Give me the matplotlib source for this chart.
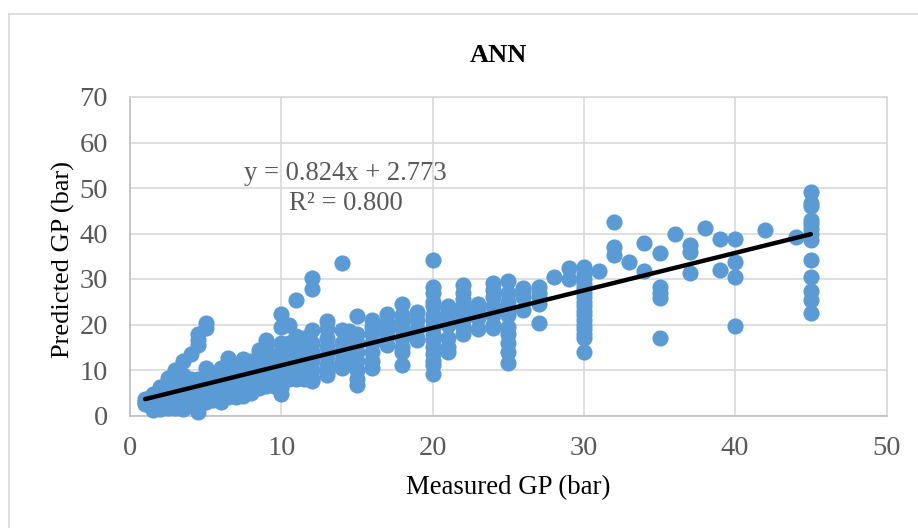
import matplotlib
matplotlib.use('Agg')
import matplotlib.pyplot as plt
from matplotlib.lines import Line2D

plt.rcParams['font.family'] = ['Liberation Serif', 'DejaVu Serif']

# 图表数据：每个测量值对应一列预测值
measured_gp = [1, 1.5, 2, 2.5, 3, 3.5, 4, 4.5, 5, 5.5, 6, 6.5, 7, 7.5, 8, 8.5, 9, 9.5, 10, 10.5, 11, 11.5, 12, 13,
               14, 14.5, 15, 16, 17, 18, 19, 20, 21, 22, 23, 24, 25, 26, 27, 28, 29, 30, 31, 32, 33, 34, 35,
               36, 37, 38, 39, 40, 42, 44, 45]
predicted_gp = [
    [3.7, 3, 2.5],
    [4.7, 3, 1.2],
    [6.2, 4.5, 3, 1.5],
    [8.2, 6, 4, 2, 1.6],
    [10, 8, 6, 4, 2, 1.6],
    [12, 9, 7, 5, 3, 1.5],
    [13.5, 8, 6, 4.5, 3, 2],
    [18, 16.5, 15.5, 8, 6, 4, 2.5, 0.8],
    [20.3, 19.2, 10.5, 8, 6, 4, 3],
    [9, 7, 5, 3.5],
    [10.5, 8, 6, 4, 3],
    [12.7, 11, 9, 7, 5, 4],
    [11, 9, 7, 5, 4],
    [12.5, 10, 8, 6, 5, 4.2],
    [12, 10, 8, 6.5, 5],
    [14.5, 11, 9.5, 8, 6],
    [16.7, 15, 13, 11, 9, 7, 6.5],
    [13, 11, 9, 7.5, 6.5],
    [22.2, 19.5, 16, 14, 12, 10, 8, 6, 4.8],
    [20, 16, 14, 12, 10, 8],
    [25.3, 17.5, 15, 13, 11, 9, 8],
    [17, 15, 13, 11, 9, 8],
    [30.2, 27.7, 18.7, 16, 14, 12, 10, 8, 7.5],
    [20.8, 19, 17, 15, 13, 11, 9.5, 9],
    [33.5, 18.7, 16, 14, 12, 10.5],
    [18.5, 16, 14, 12],
    [21.8, 18, 16, 14, 12, 10, 8, 6.8],
    [21, 19.5, 18, 16, 14, 12, 10.5],
    [22.2, 20.5, 19, 17.5, 15.5],
    [24.5, 22, 20.5, 19, 17, 15, 14, 11],
    [22.8, 21, 19, 17, 16.5],
    [34.2, 28.2, 27, 25, 24, 22, 21, 19.5, 18, 16.5, 15, 13.5, 12, 11, 9.2],
    [24, 23, 21.5, 20, 17, 15, 14],
    [28.7, 27, 25.5, 24, 22.5, 21, 19.5, 18],
    [24.5, 23, 21.5, 19],
    [29.2, 27.5, 26, 24, 22, 20, 19.2],
    [29.5, 27, 25, 23.5, 22, 19.5, 18, 16, 14, 11.5],
    [28, 27.5, 26, 23.2],
    [28.2, 27, 26, 24.5, 20.4],
    [30.4],
    [32.5, 30],
    [32.6, 31, 30, 29, 28, 27, 26, 25, 24, 23, 22, 21, 20, 19, 18, 17, 14],
    [31.7],
    [42.5, 37, 35.3],
    [33.8],
    [38, 31.8],
    [35.7, 28.3, 27, 25.8, 17],
    [40],
    [37.5, 36, 31.4],
    [41.2],
    [38.7, 32],
    [38.8, 33.7, 30.5, 19.6],
    [40.8],
    [39.2],
    [49.2, 46.8, 46, 43, 42, 41, 40, 38.5, 34.2, 30.5, 27.3, 25.3, 22.5],
]
x_ticks = [0, 10, 20, 30, 40, 50]
y_ticks = [0, 10, 20, 30, 40, 50, 60, 70]
trend_x = [1, 45]
slope = 0.824
intercept = 2.773

fig = plt.figure(figsize=(9.18, 5.28), dpi=100)
W, H = 918, 528
ax = fig.add_axes([130 / W, 1 - 415.5 / H, (886.5 - 130) / W, (415.5 - 97) / H])

# 展开成散点
xs = []
ys = []
for m, col in zip(measured_gp, predicted_gp):
    for p in col:
        xs.append(m)
        ys.append(p)

ax.scatter(xs, ys, s=135, color='#5B9BD5', linewidths=0, zorder=3, clip_on=False)
ax.plot(trend_x, [slope * v + intercept for v in trend_x], color='black', lw=3.2, zorder=4,
        solid_capstyle='round')

ax.set_xlim(0, 50)
ax.set_ylim(0, 70)
ax.set_xticks(x_ticks)
ax.set_yticks(y_ticks)
ax.grid(True, color='#D9D9D9', lw=1.2, zorder=0)
ax.set_axisbelow(True)
for s in ax.spines.values():
    s.set_color('#D9D9D9')
    s.set_linewidth(1.2)
ax.spines['left'].set_color('#BFBFBF')
ax.spines['bottom'].set_color('#BFBFBF')
ax.tick_params(length=0, labelsize=20.5, labelcolor='#595959')
ax.tick_params(axis='y', pad=16)
ax.tick_params(axis='x', pad=15)

fig.text(508.5 / W, 1 - 488 / H, 'Measured GP (bar)', fontsize=19.4, ha='center', va='center')
fig.text(63 / W, 1 - 259 / H, 'Predicted GP (bar)', fontsize=19, rotation=90, ha='center', va='center')

fig.text(498.5 / W, 1 - 56 / H, 'ANN', fontsize=19, fontweight='bold', ha='center', va='center')
fig.text(345.5 / W, 1 - 173 / H, 'y = 0.824x + 2.773', fontsize=19.2, color='#595959', ha='center', va='center')
fig.text(346 / W, 1 - 203 / H, 'R² = 0.800', fontsize=19.2, color='#595959', ha='center', va='center')

# 外框只有上边和左边在画面内
fig.add_artist(Line2D([8.5 / W, 8.5 / W], [0, 1 - 13.5 / H], color='#D9D9D9', lw=1.2))
fig.add_artist(Line2D([8.5 / W, 1], [1 - 13.5 / H, 1 - 13.5 / H], color='#D9D9D9', lw=1.2))

fig.savefig('out.png', dpi=100)
